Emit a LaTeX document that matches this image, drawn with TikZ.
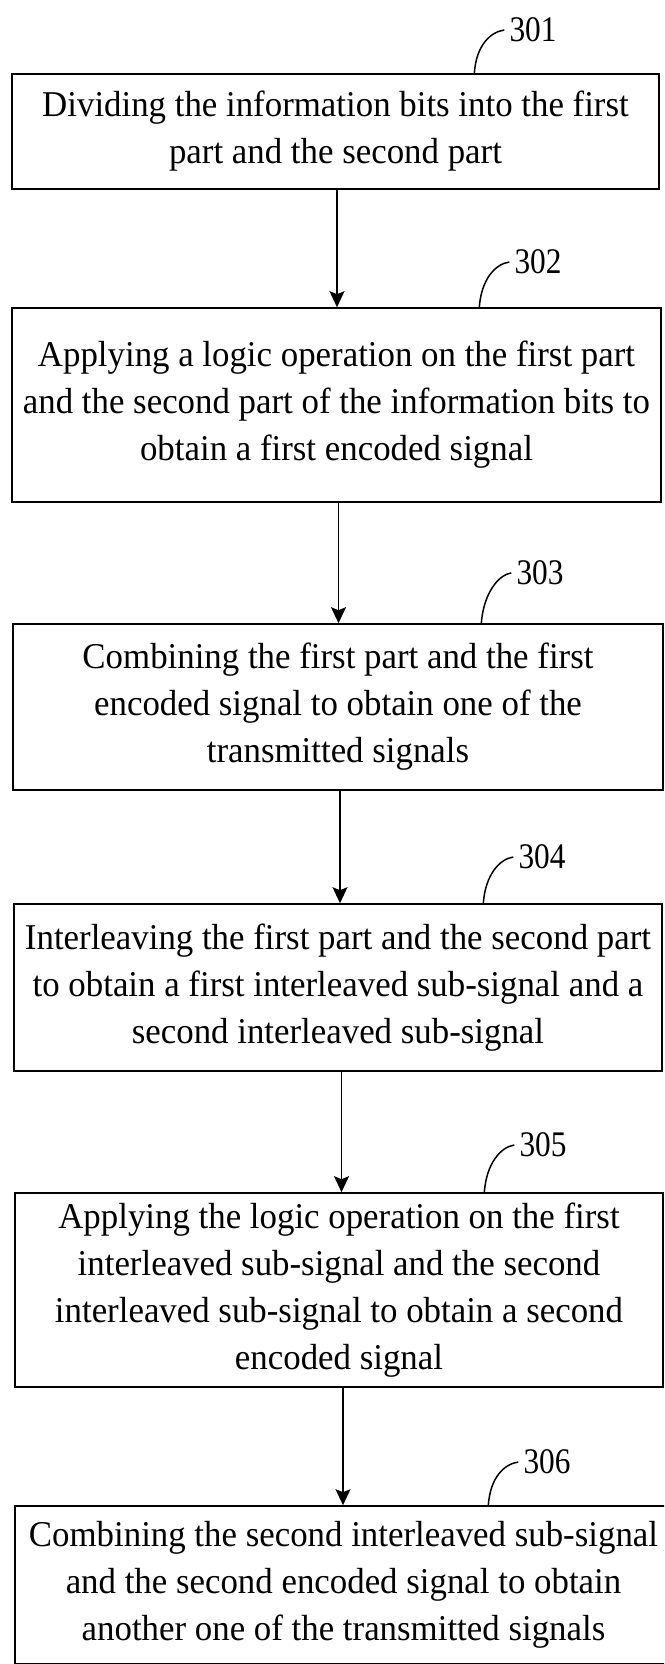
\documentclass[tikz,border=0pt]{standalone}
\usepackage{fontspec}
\setmainfont{Liberation Serif}[FakeStretch=0.96]
\newfontfamily\lblfont{Liberation Serif}[FakeStretch=0.87]
\usetikzlibrary{arrows.meta,calc}
\tikzset{
  box/.style={draw, line width=1.6pt, inner sep=0pt, align=center, font=\fontsize{36.3}{47}\selectfont},
  lbl/.style={inner sep=5pt, font=\lblfont\fontsize{36}{36}\selectfont},
  arr/.style={line width=1.6pt, -{Stealth[length=16pt,width=15pt,inset=3pt]}},
  lead/.style={line width=1.5pt},
}
\begin{document}
\begin{tikzpicture}[x=1pt,y=-1pt]
\useasboundingbox (0,0) rectangle (664,1664);
\clip (0,0) rectangle (664,1664);

\node[box, minimum width=647pt, minimum height=115pt] (b1) at (335.5,131.5)
  {Dividing the information bits into the first\\part and the second part};
\node[box, minimum width=649pt, minimum height=194pt] (b2) at (336.5,405)
  {Applying a logic operation on the first part\\and the second part of the information bits to\\obtain a first encoded signal};
\node[box, minimum width=650pt, minimum height=166pt] (b3) at (338,707)
  {Combining the first part and the first\\encoded signal to obtain one of the\\transmitted signals};
\node[box, minimum width=648pt, minimum height=167pt] (b4) at (338,987.5)
  {Interleaving the first part and the second part\\to obtain a first interleaved sub-signal and a\\second interleaved sub-signal};
\node[box, minimum width=648pt, minimum height=194pt] (b5) at (339,1290)
  {Applying the logic operation on the first\\interleaved sub-signal and the second\\interleaved sub-signal to obtain a second\\encoded signal};
\node[box, minimum width=657pt, minimum height=158pt] (b6) at (343.5,1585)
  {Combining the second interleaved sub-signal\\and the second encoded signal to obtain\\another one of the transmitted signals};

\node[lbl] (l1) at (533,30) {301};
\node[lbl] (l2) at (538,262) {302};
\node[lbl] (l3) at (540,573) {303};
\node[lbl] (l4) at (542,857) {304};
\node[lbl] (l5) at (543,1145) {305};
\node[lbl] (l6) at (547,1462) {306};

\foreach \i in {1,...,6}{
  \draw[lead] ($(l\i.west |- b\i.north)+(-30,0)$) .. controls +(2,-28) and +(-14,2) .. (l\i.west);
}

\draw[arr] ([xshift=1.5pt]b1.south) -- ([xshift=1.5pt]b1.south |- b2.north);
\draw[arr] ([xshift=2pt]b2.south) -- ([xshift=2pt]b2.south |- b3.north);
\draw[arr] ([xshift=2pt]b3.south) -- ([xshift=2pt]b3.south |- b4.north);
\draw[arr] ([xshift=3.5pt]b4.south) -- ([xshift=3.5pt]b4.south |- b5.north);
\draw[arr] ([xshift=4pt]b5.south) -- ([xshift=4pt]b5.south |- b6.north);
\end{tikzpicture}
\end{document}
